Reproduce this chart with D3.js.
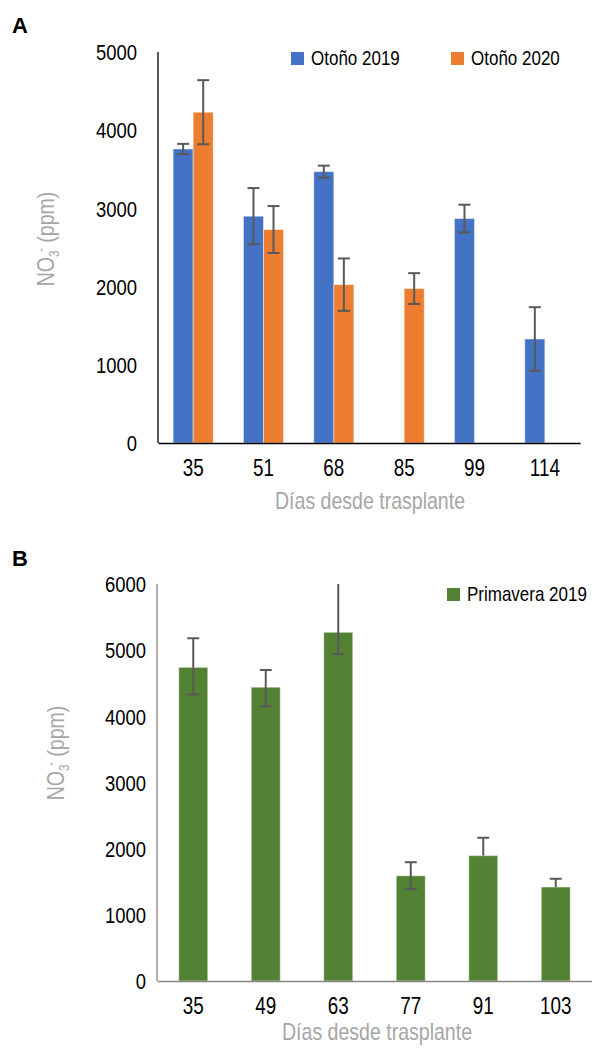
<!DOCTYPE html>
<html>
<head>
<meta charset="utf-8">
<script src="https://cdn.jsdelivr.net/npm/d3@7/dist/d3.min.js"></script>
<style>
  body { margin: 0; background: #fff; }
  svg { display: block; font-family: "Liberation Sans", Arial, sans-serif; }
</style>
</head>
<body>
<div id="chart"></div>
<script>
// ---- data ----
// panel A
var daysA = ["35", "51", "68", "85", "99", "114"];
var seriesA = ["Otoño 2019", "Otoño 2020"];
var otono2019 = [3760, 2900, 3470, null, 2870, 1330];
var otono2019Err = [65, 360, 77, null, 177, 407];
var otono2020 = [4230, 2730, 2025, 1975, null, null];
var otono2020Err = [410, 300, 335, 197, null, null];
var ticksA = [0, 1000, 2000, 3000, 4000, 5000];

// panel B
var daysB = ["35", "49", "63", "77", "91", "103"];
var primavera2019 = [4740, 4440, 5270, 1590, 1895, 1420];
var primaveraErrUp = [440, 260, 900, 205, 270, 125];
var primaveraErrDown = [410, 290, 330, 200, 0, 0];
var ticksB = [0, 1000, 2000, 3000, 4000, 5000, 6000];

var colors = { "Otoño 2019": "#4472c4", "Otoño 2020": "#ed7d31", "Primavera 2019": "#548235" };
var errColor = "#595959";
var titleGray = "#a6a6a6";

var svg = d3.select("#chart").append("svg")
    .attr("width", 592)
    .attr("height", 1052);

// small helper: horizontally condensed text like the original
function squeeze(sel, x, y, sx) {
  return sel.attr("transform", "translate(" + x + "," + y + ") scale(" + sx + ",1)");
}

function yTitle(g, cx, cy) {
  var t = g.append("text")
      .attr("transform", "translate(" + cx + "," + cy + ") rotate(-90) scale(0.85,1)")
      .attr("text-anchor", "middle")
      .attr("dy", "0.35em")
      .attr("fill", titleGray)
      .style("font-size", "23px");
  t.append("tspan").text("NO");
  t.append("tspan").attr("dy", 5).style("font-size", "14px").text("3");
  t.append("tspan").attr("dy", -13).attr("dx", -2).style("font-size", "14px").text("-");
  t.append("tspan").attr("dy", 8).text(" (ppm)");
}

function xTitle(g, cx, cy) {
  g.append("text")
    .call(squeeze, cx, cy, 0.85)
    .attr("text-anchor", "middle")
    .attr("fill", titleGray)
    .style("font-size", "23px")
    .text("Días desde trasplante");
}

function panelLetter(letter, x, y) {
  svg.append("text")
    .attr("x", x).attr("y", y)
    .style("font-size", "22px")
    .style("font-weight", "bold")
    .text(letter);
}

function errBar(g, cx, yTop, yBot, capTop, capBot) {
  g.append("line")
    .attr("x1", cx).attr("x2", cx)
    .attr("y1", yTop).attr("y2", yBot)
    .attr("stroke", errColor).attr("stroke-width", 2);
  if (capTop) g.append("line")
    .attr("x1", cx - 6).attr("x2", cx + 6)
    .attr("y1", yTop).attr("y2", yTop)
    .attr("stroke", errColor).attr("stroke-width", 2);
  if (capBot) g.append("line")
    .attr("x1", cx - 6).attr("x2", cx + 6)
    .attr("y1", yBot).attr("y2", yBot)
    .attr("stroke", errColor).attr("stroke-width", 2);
}

function styleAxes(gY, gX, labelRight, axisColor) {
  gY.select(".domain").attr("stroke", axisColor).attr("stroke-width", 1.3);
  gX.select(".domain").attr("stroke", axisColor).attr("stroke-width", 1.3);
  gY.selectAll("text")
    .attr("x", null).attr("dy", "0.35em")
    .attr("text-anchor", "end")
    .attr("fill", "#000")
    .style("font-size", "22px")
    .each(function() { squeeze(d3.select(this), -labelRight, 0, 0.84); });
  gX.selectAll("text")
    .attr("y", null).attr("dy", "0.35em")
    .attr("fill", "#000")
    .style("font-size", "23px")
    .each(function() { squeeze(d3.select(this), 0, 25, 0.82); });
}

// ================= Panel A =================
(function() {
  var x0 = d3.scaleBand().domain(daysA).range([158, 580]).padding(0);
  var x1 = d3.scaleBand().domain(seriesA)
      .range([x0.bandwidth() * 0.215, x0.bandwidth() * 0.785]);
  var y = d3.scaleLinear().domain([0, 5000]).range([443, 52]);

  var g = svg.append("g");
  var vals = { "Otoño 2019": otono2019, "Otoño 2020": otono2020 };
  var errs = { "Otoño 2019": otono2019Err, "Otoño 2020": otono2020Err };

  seriesA.forEach(function(s) {
    var rows = daysA.map(function(d, i) { return { day: d, v: vals[s][i], e: errs[s][i] }; })
        .filter(function(r) { return r.v != null; });
    g.selectAll(null).data(rows).enter().append("rect")
      .attr("x", function(r) { return x0(r.day) + x1(s); })
      .attr("width", x1.bandwidth())
      .attr("y", function(r) { return y(r.v); })
      .attr("height", function(r) { return y(0) - y(r.v); })
      .attr("fill", colors[s])
      .attr("stroke", "#fff").attr("stroke-opacity", 0.45).attr("stroke-width", 1);
    rows.forEach(function(r) {
      var cx = x0(r.day) + x1(s) + x1.bandwidth() / 2;
      errBar(g, cx, y(r.v + r.e), y(r.v - r.e), true, true);
    });
  });

  var gY = svg.append("g").attr("transform", "translate(158,0)")
      .call(d3.axisLeft(y).tickValues(ticksA).tickSize(0).tickFormat(d3.format("d")));
  var gX = svg.append("g").attr("transform", "translate(0,443)")
      .call(d3.axisBottom(x0).tickSize(0));
  styleAxes(gY, gX, 21, "#000");
  gY.select(".domain").attr("d", "M0," + y(5000) + "V" + y(0));

  yTitle(svg.append("g"), 46, 239);
  xTitle(svg, 370, 509);

  // legend
  var leg = svg.append("g").selectAll("g").data(seriesA).enter().append("g")
      .attr("transform", function(d, i) { return "translate(" + (291 + i * 160) + ",52)"; });
  leg.append("rect").attr("width", 13).attr("height", 13).attr("fill", function(d) { return colors[d]; });
  leg.append("text")
    .call(squeeze, 20, 13, 0.85)
    .style("font-size", "20px")
    .text(function(d) { return d; });

  panelLetter("A", 12, 33);
})();

// ================= Panel B =================
(function() {
  var x = d3.scaleBand().domain(daysB).range([157, 592]).padding(0);
  var y = d3.scaleLinear().domain([0, 6000]).range([981, 584]);
  var bw = x.bandwidth() * 0.4;

  var g = svg.append("g");
  var rows = daysB.map(function(d, i) {
    return { day: d, v: primavera2019[i], up: primaveraErrUp[i], dn: primaveraErrDown[i] };
  });
  g.selectAll("rect").data(rows).enter().append("rect")
    .attr("x", function(r) { return x(r.day) + (x.bandwidth() - bw) / 2; })
    .attr("width", bw)
    .attr("y", function(r) { return y(r.v); })
    .attr("height", function(r) { return y(0) - y(r.v); })
    .attr("fill", colors["Primavera 2019"])
    .attr("stroke", "#fff").attr("stroke-opacity", 0.45).attr("stroke-width", 1);
  rows.forEach(function(r) {
    var cx = x(r.day) + x.bandwidth() / 2;
    var top = Math.min(r.v + r.up, 6000);
    errBar(g, cx, y(top), y(r.v - r.dn), r.v + r.up <= 6000, r.dn > 0);
  });

  var gY = svg.append("g").attr("transform", "translate(157,0)")
      .call(d3.axisLeft(y).tickValues(ticksB).tickSize(0).tickFormat(d3.format("d")));
  var gX = svg.append("g").attr("transform", "translate(0,981)")
      .call(d3.axisBottom(x).tickSize(0));
  styleAxes(gY, gX, 11, "#868686");
  gY.select(".domain").attr("d", "M0," + y(6000) + "V" + y(0));

  yTitle(svg.append("g"), 56, 753);
  xTitle(svg, 377, 1040);

  var leg = svg.append("g").attr("transform", "translate(447,588)");
  leg.append("rect").attr("width", 13).attr("height", 13).attr("fill", colors["Primavera 2019"]);
  leg.append("text")
    .call(squeeze, 20, 13, 0.85)
    .style("font-size", "20px")
    .text("Primavera 2019");

  panelLetter("B", 12, 566);
})();
</script>
</body>
</html>
